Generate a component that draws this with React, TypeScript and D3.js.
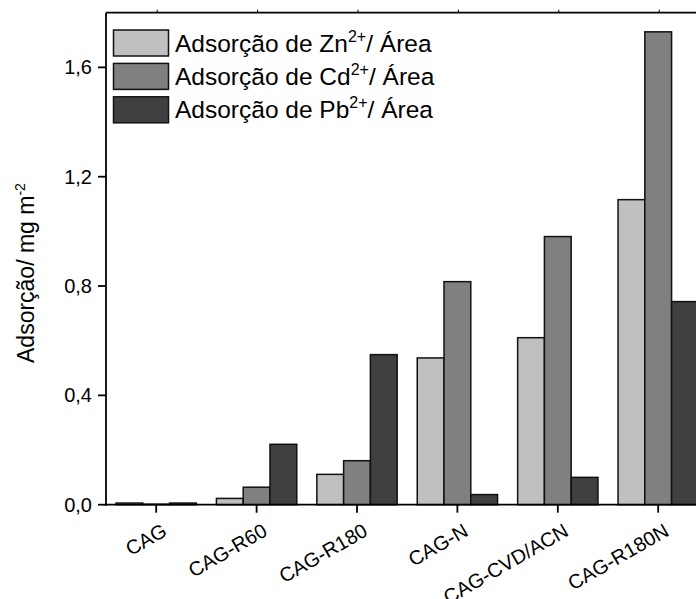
import React from "react";
import * as d3 from "d3";

const categories = ["CAG", "CAG-R60", "CAG-R180", "CAG-N", "CAG-CVD/ACN", "CAG-R180N"];
const seriesKeys = ["Zn", "Cd", "Pb"];
const znValues = [0.006, 0.023, 0.111, 0.537, 0.611, 1.116];
const cdValues = [0.002, 0.064, 0.161, 0.816, 0.981, 1.73];
const pbValues = [0.006, 0.221, 0.549, 0.037, 0.1, 0.743];
const seriesColors = ["#c0c0c0", "#808080", "#404040"];
const yTicks = [0, 0.4, 0.8, 1.2, 1.6];

const W = 696;
const H = 599;
const left = 106;
const top = 12.7;
const bottom = 504.7;
const step = 100.4;
const FONT = "Arial, 'Liberation Sans', Helvetica, sans-serif";

export default function App() {
  const x = d3.scaleBand<string>().domain(categories).range([left, left + step * categories.length]).padding(0);
  const bw = x.bandwidth();
  const xs = d3.scaleBand<string>().domain(seriesKeys).range([0.1 * bw, 0.9 * bw]).padding(0);
  const y = d3.scaleLinear().domain([0, 1.8]).range([bottom, top]);
  const allValues = [znValues, cdValues, pbValues];
  const fmt = (v: number) => v.toFixed(1).replace(".", ",");

  return (
    <svg width={W} height={H} style={{ position: "absolute", left: 0, top: 0, background: "#fff" }} fontFamily={FONT}>
      <rect x={0} y={0} width={W} height={H} fill="#fff" />
      {/* bars */}
      {categories.map((c, i) =>
        seriesKeys.map((k, s) => {
          const v = allValues[s][i];
          const x0 = (x(c) as number) + (xs(k) as number);
          return (
            <rect
              key={c + k}
              x={x0}
              y={y(v)}
              width={xs.bandwidth()}
              height={bottom - y(v)}
              fill={seriesColors[s]}
              stroke="#111"
              strokeWidth={1.5}
            />
          );
        })
      )}
      {/* frame */}
      <line x1={left} x2={W} y1={top} y2={top} stroke="#000" strokeWidth={1.8} />
      <line x1={left} x2={left} y1={top} y2={bottom + 1} stroke="#000" strokeWidth={1.8} />
      <line x1={left - 1} x2={W} y1={bottom} y2={bottom} stroke="#000" strokeWidth={1.8} />
      {/* top ticks */}
      {categories.map((c) => {
        const cx = (x(c) as number) + bw / 2 + 1;
        return <line key={"tt" + c} x1={cx} x2={cx} y1={top} y2={top - 3} stroke="#000" strokeWidth={1} />;
      })}
      {/* y ticks */}
      {yTicks.map((t) => (
        <g key={"yt" + t}>
          <line x1={left - 8} x2={left} y1={y(t)} y2={y(t)} stroke="#000" strokeWidth={1.8} />
          <text x={left - 14} y={y(t)} dy="0.35em" textAnchor="end" fontSize={20} fill="#000">
            {fmt(t)}
          </text>
        </g>
      ))}
      {/* x ticks and labels */}
      {categories.map((c) => {
        const cx = (x(c) as number) + bw / 2;
        return (
          <g key={"xt" + c}>
            <line x1={cx} x2={cx} y1={bottom} y2={bottom + 8} stroke="#000" strokeWidth={1.8} />
            <text
              transform={`translate(${cx + 12},${bottom + 30}) rotate(-30)`}
              textAnchor="end"
              fontSize={20}
              fill="#000"
            >
              {c}
            </text>
          </g>
        );
      })}
      {/* y label */}
      <text transform={`translate(34,363) rotate(-90)`} fontSize={23} fill="#000">
        Adsorção/ mg m
        <tspan dy={-9} fontSize={14}>-2</tspan>
      </text>
      {/* legend */}
      {seriesKeys.map((k, s) => {
        const ly = 30 + s * 33.4;
        return (
          <g key={"lg" + k}>
            <rect x={113.5} y={ly} width={55} height={26} fill={seriesColors[s]} stroke="#111" strokeWidth={1.5} />
            <text x={175} y={ly + 21.5} fontSize={24.5} fill="#000">
              {"Adsorção de " + k}
              <tspan dy={-10} fontSize={16}>2+</tspan>
              <tspan dy={10}>/ Área</tspan>
            </text>
          </g>
        );
      })}
    </svg>
  );
}
